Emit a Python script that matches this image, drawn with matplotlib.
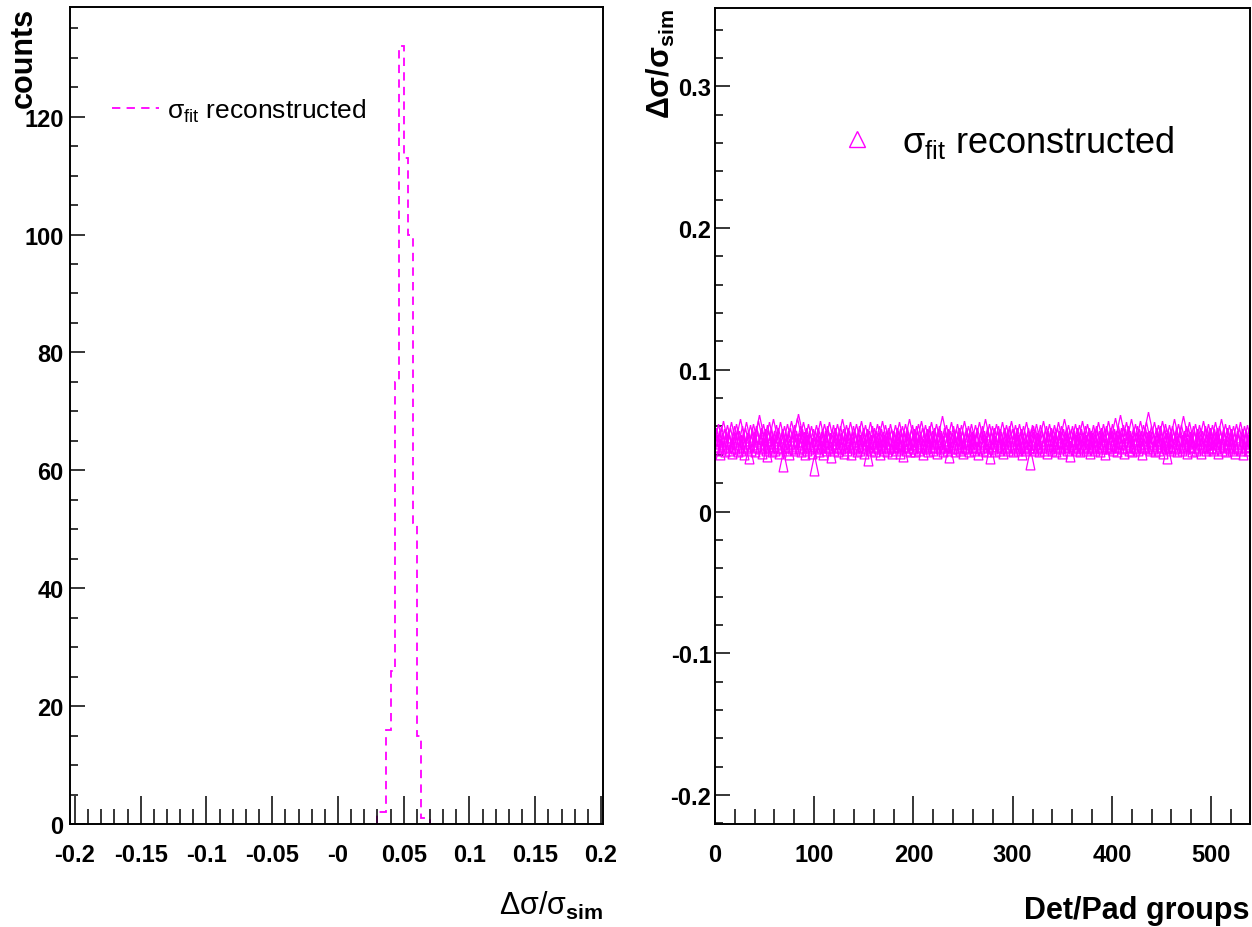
"""Δσ/σ_sim : 분포 히스토그램(왼쪽) + Det/Pad 그룹별 값(오른쪽)."""

import matplotlib
matplotlib.use("Agg")
import matplotlib.pyplot as plt
import matplotlib.ticker as mticker
from matplotlib import font_manager
from matplotlib.lines import Line2D
import numpy as np

MAGENTA = "#ff00ff"

# ── 데이터 ────────────────────────────────────────────────────────────────────
# 왼쪽: 히스토그램 (-0.2 .. 0.2, 120 bins), 0이 아닌 구간만
HIST_RANGE = (-0.2, 0.2)
HIST_NBINS = 120
hist_first_bin = 69
hist_counts = [2, 2, 16, 26, 75, 132, 113, 100, 51, 15, 1, 1]

# 오른쪽: 그룹별 Δσ/σ_sim (단위 1e-3)
group_dev_milli = [
    49, 52, 47, 55, 50, 44, 53, 48, 57, 51, 46, 49, 54, 50, 47, 52, 56, 45, 49, 53,
    48, 55, 51, 46, 50, 58, 47, 53, 49, 44, 52, 56, 48, 50, 41, 54, 47, 51, 55, 49,
    46, 53, 50, 57, 61, 48, 52, 45, 55, 49, 51, 47, 54, 43, 50, 56, 48, 52, 46, 58,
    50, 47, 54, 49, 52, 45, 56, 48, 51, 36, 53, 49, 47, 55, 50, 44, 52, 57, 48, 51,
    54, 47, 50, 59, 62, 48, 53, 46, 51, 56, 49, 44, 52, 47, 55, 50, 48, 53, 45, 51,
    33, 50, 54, 48, 52, 46, 57, 49, 51, 44, 55, 50, 47, 53, 49, 56, 48, 42, 51, 54,
    47, 52, 49, 55, 46, 50, 53, 48, 58, 51, 45, 49, 54, 47, 52, 50, 56, 44, 49, 53,
    51, 48, 55, 46, 50, 53, 47, 57, 49, 52, 45, 54, 48, 51, 40, 50, 56, 47, 53, 49,
    52, 46, 50, 55, 48, 53, 44, 51, 57, 49, 47, 54, 50, 46, 52, 48, 55, 51, 45, 50,
    49, 54, 47, 52, 50, 56, 45, 51, 48, 53, 43, 50, 55, 47, 52, 49, 58, 46, 51, 54,
    48, 51, 46, 53, 50, 55, 47, 49, 57, 52, 44, 50, 54, 48, 51, 46, 53, 49, 56, 50,
    47, 52, 49, 55, 45, 51, 53, 48, 50, 60, 46, 52, 49, 54, 47, 51, 42, 50, 56, 48,
    53, 49, 46, 51, 55, 48, 52, 47, 54, 50, 45, 57, 49, 52, 48, 53, 46, 51, 55, 49,
    50, 47, 54, 49, 52, 44, 56, 48, 51, 53, 47, 50, 58, 46, 52, 49, 55, 41, 50, 53,
    48, 52, 46, 55, 50, 53, 47, 51, 49, 56, 45, 52, 48, 54, 50, 47, 53, 49, 57, 51,
    46, 50, 54, 48, 52, 47, 55, 49, 51, 44, 53, 50, 47, 56, 48, 52, 49, 37, 51, 54,
    49, 53, 47, 51, 55, 48, 50, 46, 54, 52, 49, 57, 47, 51, 53, 45, 50, 55, 48, 52,
    47, 51, 54, 49, 46, 52, 56, 50, 48, 53, 45, 51, 58, 49, 52, 47, 54, 50, 43, 51,
    53, 48, 50, 55, 47, 52, 49, 54, 46, 51, 57, 48, 50, 53, 47, 55, 49, 52, 45, 50,
    48, 54, 51, 47, 53, 49, 56, 50, 46, 52, 48, 55, 51, 44, 53, 50, 57, 48, 52, 49,
    55, 47, 51, 59, 50, 46, 53, 49, 61, 52, 48, 54, 45, 51, 56, 49, 53, 47, 50, 58,
    46, 52, 49, 55, 48, 53, 47, 51, 57, 50, 44, 54, 49, 52, 56, 48, 63, 50, 47, 53,
    51, 48, 56, 46, 52, 50, 54, 47, 53, 49, 57, 45, 51, 55, 48, 52, 41, 50, 54, 49,
    47, 53, 50, 58, 48, 52, 46, 55, 49, 51, 54, 47, 60, 50, 48, 53, 45, 52, 56, 49,
    50, 46, 53, 49, 55, 47, 51, 48, 54, 52, 45, 50, 57, 49, 53, 47, 51, 55, 48, 52,
    49, 54, 47, 51, 56, 48, 52, 45, 53, 50, 58, 47, 51, 49, 55, 46, 52, 50, 54, 48,
    51, 47, 53, 49, 45, 55, 50, 48, 52, 56, 47, 51, 44, 53, 49, 50, 54, 47, 52, 50,
]
group_ids = np.arange(len(group_dev_milli))

left_xticks = [-0.2, -0.15, -0.1, -0.05, 0.0, 0.05, 0.1, 0.15, 0.2]
left_xticklabels = ["-0.2", "-0.15", "-0.1", "-0.05", "-0", "0.05", "0.1", "0.15", "0.2"]
right_yticks = [-0.2, -0.1, 0.0, 0.1, 0.2, 0.3]
right_yticklabels = ["-0.2", "-0.1", "0", "0.1", "0.2", "0.3"]

# ── 폰트 ──────────────────────────────────────────────────────────────────────
_installed = {f.name for f in font_manager.fontManager.ttflist}
NARROW = "Liberation Sans Narrow" if "Liberation Sans Narrow" in _installed else "Liberation Sans"
plt.rcParams["font.family"] = [NARROW, "Liberation Sans", "DejaVu Sans"]
plt.rcParams["mathtext.fontset"] = "custom"
plt.rcParams["mathtext.rm"] = "Liberation Sans"
plt.rcParams["mathtext.bf"] = "Liberation Sans:bold"
plt.rcParams["mathtext.it"] = "Liberation Sans:italic"
plt.rcParams["mathtext.sf"] = "Liberation Sans"
plt.rcParams["lines.scale_dashes"] = False

TICK_FS = 17

fig = plt.figure(figsize=(12.52, 9.28), dpi=100)
ax_h = fig.add_axes([0.0559, 0.111, 0.4257, 0.8804])
ax_g = fig.add_axes([0.571, 0.111, 0.4273, 0.879])


def _root_frame(ax):
    """ROOT 스타일: 안쪽 눈금, 아래/왼쪽만."""
    for sp in ax.spines.values():
        sp.set_linewidth(1.4)
    ax.tick_params(axis="both", which="both", direction="in", top=False, right=False,
                   width=1.1, labelsize=TICK_FS)
    ax.tick_params(axis="x", which="major", length=20, pad=14)
    ax.tick_params(axis="x", which="minor", length=11)
    ax.tick_params(axis="y", which="major", length=10.8, pad=4.5)
    ax.tick_params(axis="y", which="minor", length=5.7)


# ── 왼쪽: 히스토그램 ─────────────────────────────────────────────────────────
edges = np.linspace(*HIST_RANGE, HIST_NBINS + 1)
sel = edges[hist_first_bin:hist_first_bin + len(hist_counts) + 1]
ax_h.stairs(hist_counts, sel, color=MAGENTA, lw=1.3, linestyle=(0, (6, 4.5)))

ax_h.set_xlim(-0.2038, 0.2015)
ax_h.set_ylim(0, 138.6)
_root_frame(ax_h)
ax_h.xaxis.set_major_locator(mticker.FixedLocator(left_xticks))
ax_h.xaxis.set_major_formatter(mticker.FixedFormatter(left_xticklabels))
ax_h.xaxis.set_minor_locator(mticker.MultipleLocator(0.01))
ax_h.yaxis.set_major_locator(mticker.MultipleLocator(20))
ax_h.yaxis.set_minor_locator(mticker.MultipleLocator(5))

ax_h.set_ylabel("counts", fontsize=22, fontweight="bold", family="Liberation Sans")
ax_h.yaxis.set_label_coords(-0.086, 1.0)
ax_h.yaxis.label.set_ha("right")
ax_h.yaxis.label.set_va("center")

ax_h.set_xlabel(r"$\mathrm{\Delta\sigma/\sigma}_{\mathbf{sim}}$", fontsize=22)
ax_h.xaxis.set_label_coords(1.0, -0.11)
ax_h.xaxis.label.set_ha("right")
ax_h.xaxis.label.set_va("baseline")

h_proxy = Line2D([], [], color=MAGENTA, lw=1.3, linestyle=(0, (6, 4.5)))
ax_h.legend([h_proxy], [r"$\mathrm{\sigma_{fit}}$ reconstructed"], loc="center left",
            bbox_to_anchor=(0.0788, 0.874), frameon=False, borderpad=0, borderaxespad=0,
            handlelength=1.8, handletextpad=0.3, prop={"size": 19, "family": NARROW})

# ── 오른쪽: 그룹별 값 ────────────────────────────────────────────────────────
# 가늘고 긴 빈 삼각형 (ROOT 원본의 찌그러진 삼각형 마커 흉내)
tri = [(0, 1), (-0.42, -1), (0.42, -1), (0, 1)]
ax_g.plot(group_ids, np.array(group_dev_milli) * 1e-3, ls="none", marker=tri, ms=15,
          mfc="none", mec=MAGENTA, mew=0.9)

ax_g.set_xlim(0, 539)
ax_g.set_ylim(-0.2204, 0.355)
_root_frame(ax_g)
ax_g.xaxis.set_major_locator(mticker.MultipleLocator(100))
ax_g.xaxis.set_minor_locator(mticker.MultipleLocator(20))
ax_g.yaxis.set_major_locator(mticker.FixedLocator(right_yticks))
ax_g.yaxis.set_major_formatter(mticker.FixedFormatter(right_yticklabels))
ax_g.yaxis.set_minor_locator(mticker.MultipleLocator(0.02))
ax_g.tick_params(axis="y", which="major", pad=2.5)

ax_g.set_ylabel(r"$\mathbf{\Delta\sigma/\sigma_{sim}}$", fontsize=22)
ax_g.yaxis.set_label_coords(-0.1, 1.0)
ax_g.yaxis.label.set_ha("right")
ax_g.yaxis.label.set_va("center")

ax_g.set_xlabel("Det/Pad groups", fontsize=22, fontweight="bold")
ax_g.xaxis.set_label_coords(1.0, -0.115)
ax_g.xaxis.label.set_ha("right")
ax_g.xaxis.label.set_va("baseline")

g_proxy = Line2D([], [], ls="none", marker="^", ms=11, mfc="none", mec=MAGENTA, mew=1.0)
ax_g.legend([g_proxy], [r"$\mathrm{\sigma_{fit}}$ reconstructed"], loc="center left",
            bbox_to_anchor=(0.2318, 0.837), frameon=False, borderpad=0, borderaxespad=0,
            handlelength=1.0, handletextpad=0.75, numpoints=1,
            prop={"size": 26, "family": "Liberation Sans"})

for ax in (ax_h, ax_g):
    for lbl in ax.get_xticklabels() + ax.get_yticklabels():
        lbl.set_fontweight("bold")

fig.savefig("out.png", dpi=100)
